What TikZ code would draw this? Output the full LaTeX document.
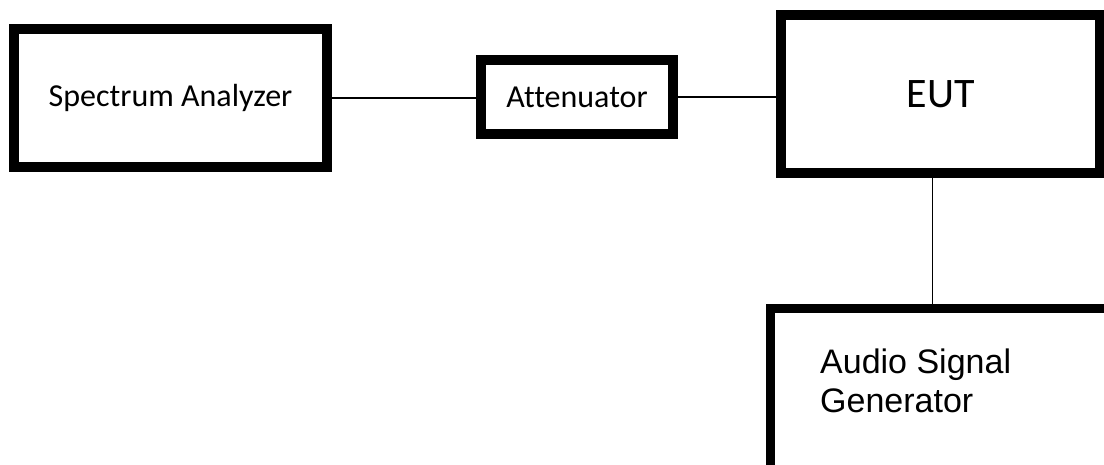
\documentclass[tikz,border=0pt]{standalone}
\usepackage{fontspec}
\setmainfont{Carlito}[Ligatures=NoCommon]
\newfontfamily\arialfont{Liberation Sans}
\usetikzlibrary{positioning}

\begin{document}
\begin{tikzpicture}[x=1pt, y=1pt, block/.style={rectangle,draw,line width=10pt,inner sep=0}, wire/.style={line width=1.3pt}]
        \path[use as bounding box,clip] (0,0) rectangle (1104,464);
        \node at (170.5,366) [block,minimum width=313pt,minimum height=138pt,font=\fontsize{32}{38}\selectfont] (specan) {Spectrum Analyzer};
        \node at (577,367) [block,minimum width=192pt,minimum height=74pt,font=\fontsize{32}{38}\selectfont] (atten) {Attenuator};
        \node at (940.5,370) [block,minimum width=319pt,minimum height=158pt,font=\fontsize{42}{48}\selectfont] (eut) {EUT};
        \node at (940,72) [block,line width=9pt,minimum width=340pt,minimum height=166pt] (asg) {};
        \node at (820,52) [anchor=base west,inner sep=0,align=left,font=\arialfont\fontsize{34}{39}\selectfont] (asgtext) {Audio Signal\\Generator};
        \draw[wire] (specan.east) -- (specan.east -| atten.west);
        \draw[wire] (atten.east) -- (atten.east -| eut.west);
        \draw[wire] ([xshift=-8pt]eut.south) -- ([xshift=-8pt]eut.south |- asg.north);
    \end{tikzpicture}
\end{document}
